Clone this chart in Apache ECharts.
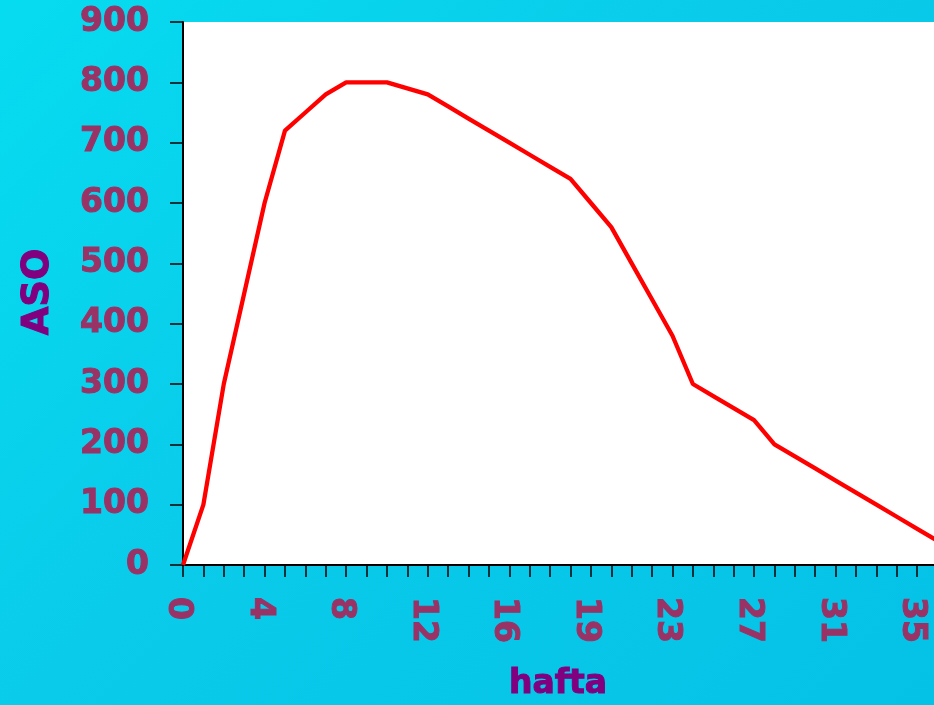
<!DOCTYPE html>
<html>
<head>
<meta charset="utf-8">
<script src="https://cdn.jsdelivr.net/npm/echarts@6/dist/echarts.min.js"></script>
<style>
html,body{margin:0;padding:0;width:934px;height:705px;overflow:hidden;
background:linear-gradient(135deg,#06dcf0 0%,#0acbea 45%,#04c2e6 100%);}
#c{width:1000px;height:705px;}
</style>
</head>
<body>
<div id="c"></div>
<script>
const weeks = ['0','1','2','3','4','5','6','7','8','9','10','11','12','13','14','15','16','17','17.5','18','19','20','21','22','23','24','25','26','27','28','29','30','31','32','33','34','35','36','37'];
const aso = [0,100,300,450,600,720,750,780,800,800,800,790,780,760,740,720,700,680,660,640,600,560,500,440,380,300,280,260,240,200,180,160,140,120,100,80,60,40,20];
const yTicks = [0,100,200,300,400,500,600,700,800,900];
const yTitle = 'ASO';
const xTitle = 'hafta';

const labelColor = '#993366';
const titleColor = '#800080';
const font = '"DejaVu Sans", Verdana, sans-serif';

const chart = echarts.init(document.getElementById('c'));
chart.setOption({
  backgroundColor: 'transparent',
  animation: false,
  grid: {left: 183, top: 22, height: 543, width: 775, show: true, backgroundColor: '#ffffff', borderWidth: 0, containLabel: false},
  xAxis: {
    type: 'category',
    data: weeks,
    boundaryGap: false,
    axisLine: {lineStyle: {color: '#000', width: 2}},
    axisTick: {show: true, interval: 0, length: 12, lineStyle: {color: '#000', width: 1.5}},
    axisLabel: {interval: 3, rotate: -90, margin: 32,
                formatter: function (v) { return '{a|' + v + '}'; },
                rich: {a: {color: labelColor, fontSize: 33, fontWeight: 'bold', fontFamily: font,
                           textBorderColor: labelColor, textBorderWidth: 1, padding: [11, 0, 0, 0]}}}
  },
  yAxis: {
    type: 'value',
    min: yTicks[0], max: yTicks[yTicks.length - 1], interval: 100,
    axisLine: {show: true, lineStyle: {color: '#000', width: 2}},
    axisTick: {show: true, length: 13, lineStyle: {color: '#000', width: 1.5}},
    splitLine: {show: false},
    axisLabel: {margin: 34, color: labelColor, fontSize: 33, fontWeight: 'bold', fontFamily: font,
                textBorderColor: labelColor, textBorderWidth: 1}
  },
  graphic: [
    {type: 'text', rotation: Math.PI / 2, x: 38, y: 292,
     style: {text: yTitle, fill: titleColor, font: 'bold 37px ' + font, textAlign: 'center', textVerticalAlign: 'middle',
             stroke: titleColor, lineWidth: 1}},
    {type: 'text', x: 558, y: 684,
     style: {text: xTitle, fill: titleColor, font: 'bold 33px ' + font, textAlign: 'center', textVerticalAlign: 'middle',
             stroke: titleColor, lineWidth: 1}}
  ],
  series: [{
    type: 'line',
    data: aso,
    showSymbol: false,
    symbol: 'none',
    lineStyle: {color: '#ff0000', width: 4.3},
    clip: true
  }]
});
</script>
</body>
</html>
